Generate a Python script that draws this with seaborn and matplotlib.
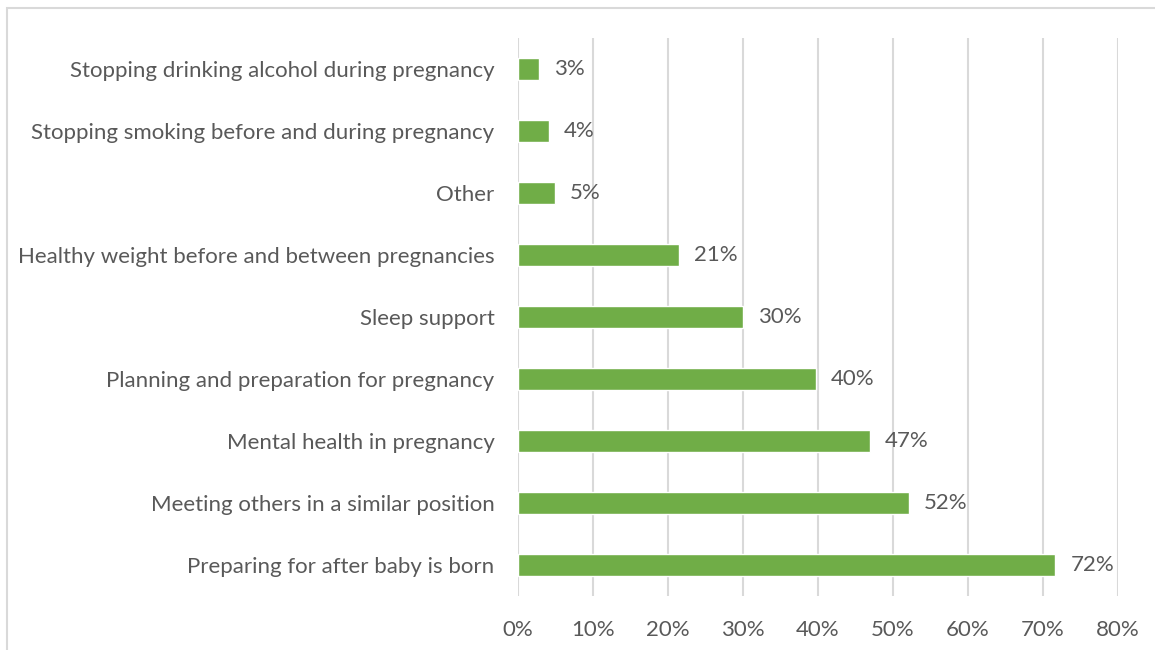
import matplotlib
matplotlib.use("Agg")
import matplotlib.pyplot as plt
from matplotlib.patches import Rectangle
from matplotlib.ticker import FuncFormatter
import seaborn as sns
import pandas as pd

# -----------------------------
# Data
# -----------------------------
categories = [
    "Stopping drinking alcohol during pregnancy",
    "Stopping smoking before and during pregnancy",
    "Other",
    "Healthy weight before and between pregnancies",
    "Sleep support",
    "Planning and preparation for pregnancy",
    "Mental health in pregnancy",
    "Meeting others in a similar position",
    "Preparing for after baby is born",
]
shares = [2.8, 4.1, 4.9, 21.4, 30.0, 39.7, 46.9, 52.1, 71.6]
value_labels = ["3%", "4%", "5%", "21%", "30%", "40%", "47%", "52%", "72%"]
x_ticks = [0, 10, 20, 30, 40, 50, 60, 70, 80]

GREEN = "#70AD47"
TEXT = "#595959"
GRID = "#D9D9D9"
FS = 16

df = pd.DataFrame({"category": categories, "share": shares})

sns.set_theme(style="white")
plt.rcParams["font.family"] = ["Lato", "DejaVu Sans"]

fig = plt.figure(figsize=(11.55, 6.5), dpi=100)
ax = fig.add_axes([518 / 1155, 1 - 596 / 650, 600 / 1155, 558 / 650])

sns.barplot(data=df, x="share", y="category", orient="h", color=GREEN,
            width=0.34, saturation=1, ax=ax)

ax.bar_label(ax.containers[0], labels=value_labels,
             padding=11, color=TEXT, fontsize=FS)

ax.set_xlim(0, 80)
ax.set_xticks(x_ticks)
ax.xaxis.set_major_formatter(FuncFormatter(lambda v, _: f"{v:.0f}%"))
ax.set_xlabel("")
ax.set_ylabel("")
ax.grid(axis="x", color=GRID, linewidth=1.5)
ax.grid(axis="y", visible=False)
ax.set_axisbelow(True)
for s in ax.spines.values():
    s.set_visible(False)
ax.tick_params(axis="x", length=0, pad=17, labelsize=FS, labelcolor=TEXT)
ax.tick_params(axis="y", length=0, pad=17, labelsize=FS, labelcolor=TEXT)

# light frame around the chart area
fig.patches.append(Rectangle((7 / 1155, -0.1), 1.2, 1 - 8 / 650 + 0.1,
                             transform=fig.transFigure, fill=False,
                             edgecolor="#D9D9D9", linewidth=1.5))

fig.savefig("out.png", dpi=100)
